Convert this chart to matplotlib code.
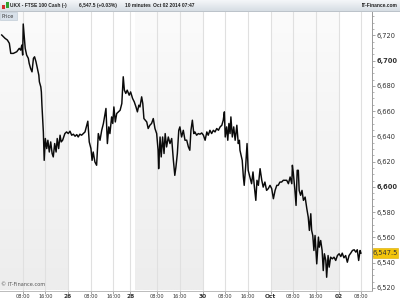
import matplotlib
matplotlib.use("Agg")
import matplotlib.pyplot as plt
import numpy as np
from matplotlib.patches import Rectangle
from matplotlib.ticker import FixedLocator, FuncFormatter

# session hours since 25 Sep 00:00 (weekend removed) and FTSE 100 cash price
hours = [0.6, 1.8, 2.6, 3.3, 3.8, 4.7, 5.9, 6.8, 7.3, 7.7, 8.0, 8.2, 8.6, 8.9, 9.4, 10.0, 10.3, 10.8,
         11.3, 11.8, 12.2, 12.7, 13.2, 13.7, 13.9, 14.4, 14.6, 14.8, 15.1, 15.3, 15.6, 16.0, 16.5, 16.9,
         17.4, 17.9, 18.4, 18.8, 19.3, 19.8, 20.2, 20.7, 21.2, 21.6, 22.1, 22.9, 23.5, 24.1, 24.7, 25.3,
         25.9, 26.5, 27.1, 27.6, 28.2, 28.8, 29.4, 30.0, 30.6, 31.0, 31.5, 32.1, 32.5, 32.9, 33.5, 34.1,
         34.7, 35.3, 35.9, 36.5, 37.1, 37.4, 37.9, 38.4, 38.8, 39.4, 39.8, 40.2, 40.7, 41.2, 41.8, 42.4,
         43.0, 43.5, 43.9, 44.4, 44.9, 45.6, 46.1, 46.8, 47.4, 48.0, 48.5, 49.0, 49.4, 50.0, 50.4, 50.8,
         51.3, 51.8, 52.3, 52.9, 53.5, 54.1, 54.7, 55.3, 55.8, 56.0, 56.5, 56.9, 57.4, 57.9, 58.3, 58.8,
         59.4, 60.0, 60.6, 61.2, 61.7, 62.1, 62.6, 63.1, 63.5, 64.1, 64.7, 65.3, 65.9, 66.5, 67.0, 67.4,
         67.9, 68.4, 68.8, 69.4, 70.0, 70.6, 71.2, 71.8, 72.4, 73.0, 73.5, 74.1, 74.7, 75.3, 75.9, 76.5,
         77.1, 77.7, 78.3, 78.8, 79.2, 79.5, 80.0, 80.4, 80.8, 81.2, 81.5, 82.0, 82.5, 83.0, 83.6, 84.1,
         84.5, 84.7, 85.1, 85.5, 85.9, 86.2, 86.7, 87.2, 87.6, 88.2, 88.8, 89.3, 89.8, 90.3, 90.7, 91.2,
         91.8, 92.4, 92.9, 93.5, 94.1, 94.7, 95.3, 95.9, 96.5, 97.1, 97.7, 98.2, 98.8, 99.4, 100.0, 101.2,
         101.8, 102.4, 103.0, 103.2, 103.5, 104.1, 104.5, 104.9, 105.3, 105.6, 106.1, 106.6, 107.1, 107.7,
         108.3, 108.8, 109.2, 109.7, 110.0, 110.4, 110.8, 111.2, 111.8, 112.4, 112.7, 113.2, 113.7, 114.1,
         114.5, 115.0, 115.3, 115.8, 116.2, 116.7, 117.3, 117.9, 118.5, 119.1, 119.7, 120.3, 120.8, 121.4,
         122.0, 122.6, 123.2, 123.8, 124.4, 125.0, 125.6, 126.1, 126.6, 127.1, 127.4]
price = [6720.3, 6717.6, 6716.3, 6713.7, 6705.7, 6705.7, 6707.0, 6709.7, 6708.3, 6712.3, 6704.4, 6729.0,
         6717.6, 6709.7, 6704.4, 6701.8, 6697.8, 6693.8, 6691.1, 6701.8, 6703.0, 6699.1, 6693.8, 6688.5,
         6683.2, 6679.2, 6675.2, 6664.7, 6651.4, 6643.5, 6621.0, 6638.3, 6630.3, 6636.9, 6627.6, 6635.6,
         6626.4, 6623.7, 6634.3, 6627.6, 6638.3, 6630.3, 6640.9, 6635.6, 6636.9, 6642.2, 6643.5, 6642.2,
         6644.1, 6640.9, 6641.7, 6640.1, 6641.4, 6639.5, 6641.7, 6640.9, 6642.2, 6643.5, 6648.8, 6652.0,
         6635.6, 6630.3, 6621.0, 6627.6, 6619.7, 6617.1, 6642.2, 6636.9, 6644.8, 6650.2, 6658.1, 6662.1,
         6634.3, 6647.5, 6642.2, 6655.4, 6650.2, 6663.3, 6651.4, 6658.1, 6659.4, 6660.7, 6666.0, 6687.2,
         6676.6, 6674.0, 6676.6, 6672.6, 6675.2, 6670.0, 6667.3, 6663.3, 6659.4, 6664.7, 6663.3, 6671.3,
         6666.0, 6654.1, 6652.8, 6651.4, 6646.2, 6648.8, 6650.2, 6654.1, 6646.2, 6642.2, 6629.0, 6614.4,
         6639.5, 6623.7, 6639.5, 6626.4, 6642.2, 6631.6, 6639.5, 6634.3, 6638.3, 6621.0, 6609.1, 6615.7,
         6626.4, 6644.8, 6647.5, 6639.5, 6644.8, 6636.9, 6637.0, 6631.6, 6629.0, 6644.8, 6652.8, 6642.2,
         6643.5, 6640.9, 6642.2, 6641.7, 6642.7, 6640.9, 6636.9, 6643.5, 6640.9, 6644.8, 6642.2, 6644.8,
         6643.5, 6646.2, 6644.8, 6647.5, 6648.8, 6652.8, 6659.4, 6639.5, 6647.5, 6636.9, 6650.2, 6642.2,
         6655.4, 6639.5, 6647.5, 6636.9, 6648.8, 6634.3, 6636.9, 6629.0, 6625.0, 6621.0, 6607.8, 6601.2,
         6615.7, 6634.3, 6613.1, 6607.8, 6602.5, 6611.8, 6599.8, 6589.3, 6605.2, 6601.2, 6614.4, 6605.2,
         6599.8, 6603.8, 6597.2, 6598.6, 6601.2, 6598.6, 6590.6, 6597.2, 6601.2, 6601.2, 6603.8, 6603.8,
         6605.2, 6605.2, 6602.5, 6607.8, 6602.5, 6617.1, 6611.8, 6597.2, 6585.3, 6613.1, 6613.1, 6597.2,
         6593.3, 6597.2, 6589.3, 6591.9, 6582.7, 6576.0, 6565.5, 6578.7, 6565.5, 6561.5, 6549.6, 6561.5,
         6539.0, 6560.2, 6552.2, 6557.5, 6549.6, 6533.7, 6547.0, 6541.7, 6528.4, 6545.6, 6536.4, 6544.3,
         6543.0, 6544.3, 6541.7, 6545.6, 6547.0, 6544.8, 6547.5, 6543.8, 6545.6, 6540.3, 6545.6, 6547.5,
         6549.6, 6550.2, 6548.3, 6550.2, 6541.7, 6549.6, 6547.5]
last_price = 6547.5

tick_pos = [8, 16, 24, 32, 40, 46, 55.5, 63.5, 71.5, 79.5, 87.5, 95.5, 103.5, 111.5, 119.5, 127.5]
tick_lbl = ['08:00', '16:00', '26', '08:00', '16:00', '28', '08:00', '16:00', '30',
            '08:00', '16:00', 'Oct', '08:00', '16:00', '02', '08:00']
date_lbls = ['26', '28', '30', 'Oct', '02']
shaded_days = [(0, 24), (47.5, 71.5), (95.5, 119.5)]

W, H = 400, 300
def fx(x):
    return x / W
def fy(y):
    return 1 - y / H

fig = plt.figure(figsize=(4, 3), dpi=100)
fig.patch.set_facecolor('white')

ax = fig.add_axes([0.0, fy(290.5), fx(371.7), fy(12) - fy(290.5)])

# grey gradient day bands
grad = np.linspace(0, 1, 100).reshape(-1, 1)
band_cmap = matplotlib.colors.LinearSegmentedColormap.from_list('g', ['#fbfbfb', '#ededed'])
for a, b in shaded_days:
    ax.imshow(grad, extent=(a, b, 6517.9, 6738.5), aspect='auto', origin='upper',
              cmap=band_cmap, zorder=0)
ax.set_xlim(0, 131.2)
ax.set_ylim(6517.9, 6738.5)

for t in tick_pos:
    ax.axvline(t, color='#e0e0e0', lw=0.8, zorder=1)

ax.plot(hours, price, color='#0a0a0a', lw=1.05, zorder=3)

# axes styling
for s in ['top', 'left']:
    ax.spines[s].set_visible(False)
ax.spines['right'].set_color('#999999')
ax.spines['right'].set_linewidth(0.7)
ax.spines['bottom'].set_color('#bbbbbb')
ax.spines['bottom'].set_linewidth(0.7)

ax.yaxis.tick_right()
ax.set_yticks(np.arange(6520, 6740, 20))
ax.yaxis.set_minor_locator(FixedLocator(np.arange(6525, 6740, 5)))
ax.yaxis.set_major_formatter(FuncFormatter(lambda v, p: f'{v:,.0f}'))
ax.tick_params(axis='y', which='major', length=2.5, width=0.6, color='#999999', pad=1,
               labelsize=4.8, labelcolor='#333333')
ax.tick_params(axis='y', which='minor', length=1.2, width=0.5, color='#999999')
for lab in ax.get_yticklabels():
    if lab.get_text() in ('6,700', '6,600'):
        lab.set_fontweight('bold')

ax.set_xticks(tick_pos)
ax.set_xticklabels(tick_lbl)
ax.tick_params(axis='x', length=2, width=0.6, color='#999999', pad=0.8,
               labelsize=3.6, labelcolor='#333333')
for lab in ax.get_xticklabels():
    if lab.get_text() in date_lbls:
        lab.set_fontweight('bold')
        lab.set_fontsize(4.2)

ax.text(0.5, 6521.5, '\u00a9 IT-Finance.com', fontsize=3.6, color='#555555', zorder=4)

# last price marker
fig.patches.append(Rectangle((fx(372.5), fy(257.5)), fx(25.5), fy(248) - fy(257.5),
                             transform=fig.transFigure, facecolor='#f2c40c', edgecolor='#d9a800',
                             lw=0.4, zorder=5))
fig.text(fx(385), fy(252.8), f'{last_price:,.1f}', fontsize=4.8, color='#333333',
         ha='center', va='center', zorder=6)

# header bar
hdr = fig.add_axes([0, fy(11), 1, fy(0) - fy(11)])
hdr.imshow(grad, extent=(0, 1, 0, 1), aspect='auto', origin='upper',
           cmap=matplotlib.colors.LinearSegmentedColormap.from_list('h', ['#f5f7f9', '#d6dde4']))
hdr.set_xlim(0, 1)
hdr.set_ylim(0, 1)
hdr.axis('off')
fig.lines.append(plt.Line2D([0, 1], [fy(11), fy(11)], transform=fig.transFigure,
                            color='#b0b8c0', lw=0.6))

# small candle icon
fig.patches.append(Rectangle((fx(2), fy(9)), fx(3), fy(5) - fy(9), transform=fig.transFigure,
                             facecolor='#d03030', edgecolor='none'))
fig.patches.append(Rectangle((fx(6), fy(8)), fx(3), fy(2) - fy(8), transform=fig.transFigure,
                             facecolor='#30a030', edgecolor='none'))

hy = fy(5.5)
hfont = dict(fontsize=3.5, fontweight='bold', va='center', color='#222222', family='Liberation Sans')
fig.text(fx(10), hy, 'UKX - FTSE 100 Cash (-)', **hfont)
fig.text(fx(79), hy, '6,547.5 (+0.03%)', **hfont)
fig.text(fx(125), hy, '10 minutes', **hfont)
fig.text(fx(153), hy, 'Oct 02 2014 07:47', **hfont)
fig.text(fx(398), hy, 'IT-Finance.com', ha='right',
         **{k: v for k, v in hfont.items() if k != 'ha'})

# "Price" tag
fig.patches.append(Rectangle((fx(0), fy(20)), fx(17), fy(11.5) - fy(20), transform=fig.transFigure,
                             facecolor='#d8e1ea', edgecolor='#b8c4d0', lw=0.4, zorder=5))
fig.text(fx(1.5), fy(16), 'Price', fontsize=3.6, va='center', color='#333333', zorder=6)

fig.savefig('out.png', dpi=100)
